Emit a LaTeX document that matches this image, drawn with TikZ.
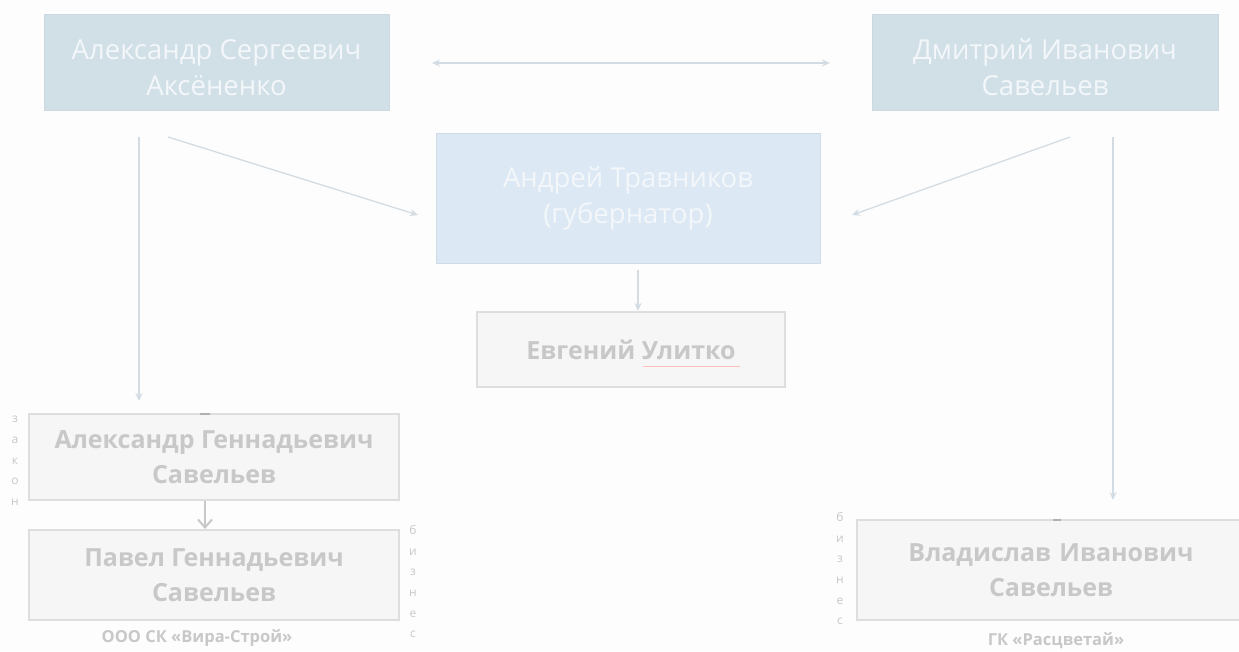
\documentclass[tikz,border=0pt]{standalone}
\usepackage{fontspec}
\setmainfont{Open Sans}
\usetikzlibrary{arrows.meta}
\definecolor{bgc}{HTML}{FDFDFD}
\definecolor{topfill}{HTML}{D1DFE7}
\definecolor{topdraw}{HTML}{CCD9E1}
\definecolor{midfill}{HTML}{DCE8F4}
\definecolor{middraw}{HTML}{CFDCE8}
\definecolor{lowfill}{HTML}{F6F6F6}
\definecolor{lowdraw}{HTML}{DEDEDE}
\definecolor{lowtext}{HTML}{C8C8C8}
\definecolor{arr}{HTML}{D3DCE3}
\definecolor{toptext}{HTML}{F3F7FA}
\begin{document}
\begin{tikzpicture}[x=1pt,y=-1pt,
  topbox/.style={draw=topdraw, fill=topfill, line width=1pt, inner sep=0pt,
    text=toptext, align=center, font=\fontsize{27.5}{36}\selectfont},
  lowbox/.style={draw=lowdraw, fill=lowfill, line width=1.5pt, inner sep=0pt,
    text=lowtext, align=center, font=\bfseries\fontsize{25}{35}\selectfont},
  conn/.style={draw=arr, line width=1.3pt, -{Stealth[length=8pt,width=7pt]}},
  tinytxt/.style={text=lowtext, font=\fontsize{12}{20.7}\selectfont, align=center, inner sep=0pt},
  captxt/.style={text=lowtext, font=\bfseries\fontsize{16.5}{20}\selectfont, inner sep=0pt},
  stub/.style={draw=lowtext!88!black, line width=1.5pt}]
\fill[bgc] (0,0) rectangle (1239,651);
\useasboundingbox (0,0) rectangle (1239,651);

\node[topbox, minimum width=345pt, minimum height=96pt] (A) at (216.5,62) {\rule{0pt}{32pt}Александр Сергеевич\\Аксёненко};
\node[topbox, minimum width=346pt, minimum height=96pt] (D) at (1045,62) {\rule{0pt}{32pt}Дмитрий Иванович\\Савельев};
\node[topbox, draw=middraw, fill=midfill, minimum width=384pt, minimum height=130pt] (T) at (628,198) {Андрей Травников\\(губернатор)};
\node[lowbox, minimum width=308pt, minimum height=75pt] (U) at (631,349.5) {Евгений Улитко};
\node[lowbox, minimum width=370pt, minimum height=86pt] (AG) at (214,457) {Александр Геннадьевич\\Савельев};
\node[lowbox, minimum width=370pt, minimum height=90pt] (PG) at (214,575) {Павел Геннадьевич\\Савельев};
\node[lowbox, minimum width=388pt, minimum height=100pt, text width=360pt] (VI) at (1051,570) {Владислав Иванович\\Савельев};

\node[captxt] (c1) at (197,638) {ООО СК «Вира-Строй»};
\node[captxt] (c2) at (1056,641) {ГК «Расцветай»};

\node[tinytxt, anchor=north] (z1) at (15,416) {з\\а\\к\\о\\н};
\node[tinytxt, anchor=north] (b1) at (413,525) {б\\и\\з\\н\\е\\с};
\node[tinytxt, anchor=north] (b2) at (840,512) {б\\и\\з\\н\\е\\с};

\coordinate (ul1) at (643,366);
\coordinate (ul2) at (740,366);
\draw[draw=red!25, line width=0.8pt] (ul1) -- (ul2);

\coordinate (s1) at (200,414);
\coordinate (s2) at (210,414);
\draw[stub] (s1) -- (s2);
\coordinate (s3) at (1053,520);
\coordinate (s4) at (1061,520);
\draw[stub] (s3) -- (s4);

\coordinate (aL) at (432,63);
\coordinate (aR) at (830,63);
\draw[draw=arr, line width=1.3pt, {Stealth[length=8pt,width=7pt]}-{Stealth[length=8pt,width=7pt]}] (aL) -- (aR);

\coordinate (a1) at (168,137);
\coordinate (a2) at (418,215);
\draw[conn] (a1) -- (a2);
\coordinate (a3) at (139,137);
\coordinate (a4) at (139,401);
\draw[conn] (a3) -- (a4);

\coordinate (d1) at (1070,137);
\coordinate (d2) at (852,215);
\draw[conn] (d1) -- (d2);
\coordinate (d3) at (1113,137);
\coordinate (d4) at (1113,500);
\draw[conn] (d3) -- (d4);

\coordinate (t1) at (638,270);
\coordinate (t2) at (638,311);
\draw[conn] (t1) -- (t2);

\coordinate (g1) at (205,501);
\coordinate (g2) at (205,529);
\draw[draw=lowtext, line width=2pt, -{Straight Barb[length=8pt,width=14pt]}] (g1) -- (g2);
\end{tikzpicture}
\end{document}
